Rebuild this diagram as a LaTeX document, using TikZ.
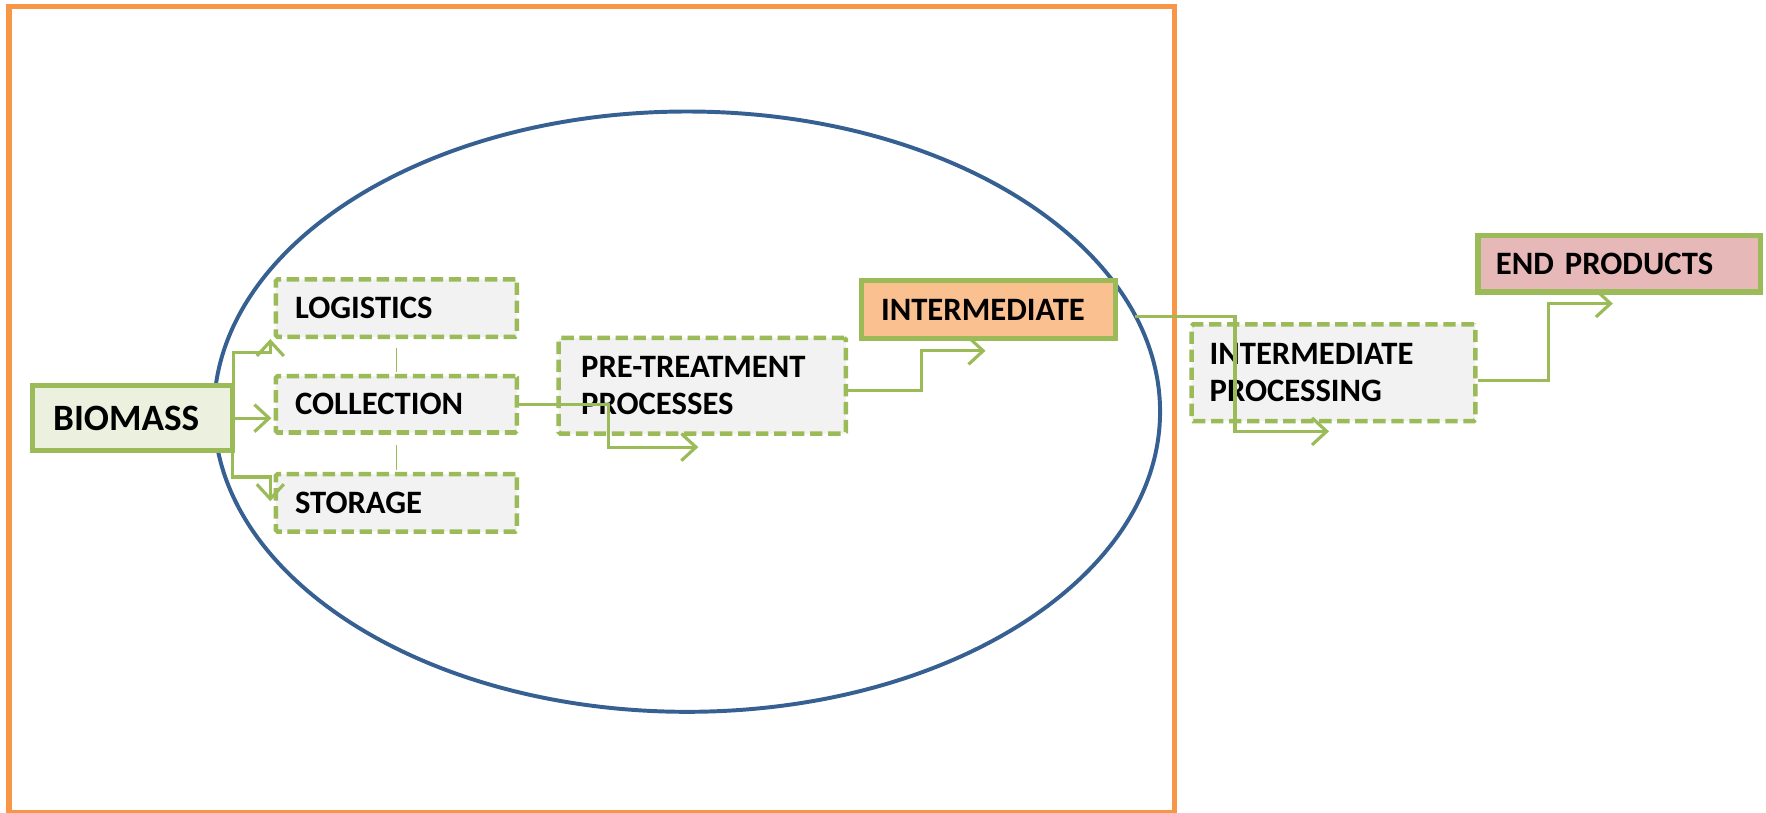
\documentclass[tikz,border=0pt]{standalone}
\usepackage{fontspec}
\setmainfont{Carlito}
\usetikzlibrary{arrows.meta,calc}
\definecolor{frameorange}{HTML}{F79646}
\definecolor{ellblue}{HTML}{366092}
\definecolor{lgreen}{HTML}{9BBB59}
\definecolor{boxgray}{HTML}{F2F2F2}
\definecolor{biofill}{HTML}{EBF1DE}
\definecolor{intfill}{HTML}{FAC090}
\definecolor{endfill}{HTML}{E6B9B8}
\tikzset{
  lbl/.style={font=\fontsize{29}{33}\selectfont\bfseries, align=left, anchor=north west, inner ysep=0pt, inner xsep=0pt},
  dbox/.style={draw=lgreen, line width=4pt, dash pattern=on 11pt off 5pt, fill=boxgray, rounded corners=1.5pt, lbl},
  sbox/.style={draw=lgreen, line width=4.5pt, lbl},
  conn/.style={draw=lgreen, line width=2.8pt, -{Straight Barb[length=13pt,width=24pt,line width=2.8pt]}},
  thinline/.style={draw=lgreen, line width=1.6pt},
}
\begin{document}
\begin{tikzpicture}[x=1pt,y=-1pt]
\useasboundingbox (0,0) rectangle (1568,721);
\fill[white] (0,0) rectangle (1568,721);
\draw[frameorange, line width=4.5pt] (8,6) rectangle (1043,721);
\draw[ellblue, line width=3.5pt] (610,365.5) ellipse [x radius=420, y radius=266.5];

\node[sbox, fill=biofill, minimum width=177pt, minimum height=58pt, text width=141pt, inner xsep=18pt, font=\fontsize{33}{37}\selectfont\bfseries] (bio) at (27,340) {BIOMASS};
\node[dbox, minimum width=214pt, minimum height=51pt, text width=180pt, inner xsep=17pt] (log) at (243,246) {LOGISTICS};
\node[dbox, minimum width=214pt, minimum height=50pt, text width=180pt, inner xsep=17pt] (col) at (243,332) {COLLECTION};
\node[dbox, minimum width=214pt, minimum height=51pt, text width=180pt, inner xsep=17pt] (sto) at (243,419) {STORAGE};
\node[dbox, minimum width=255pt, minimum height=85pt, text width=215pt, inner xsep=20pt] (pre) at (494,298) {PRE-TREATMENT\\PROCESSES};
\node[sbox, fill=intfill, minimum width=225pt, minimum height=51pt, text width=191pt, inner xsep=17pt] (int) at (763,247) {INTERMEDIATE};
\node[dbox, minimum width=252pt, minimum height=86pt, text width=220pt, inner xsep=16pt] (ip) at (1056,286) {INTERMEDIATE\\PROCESSING};
\node[sbox, fill=endfill, minimum width=251pt, minimum height=50pt, text width=219pt, inner xsep=16pt] (end) at (1310,207) {END PRODUCTS};

\draw[conn] ([xshift=-1pt]bio.north east) -- ++(0,-27) -| ($(log.south west)+(-3,0)$);
\draw[conn] (bio.east) -- ($(col.west |- bio.east)+(-2,0)$);
\draw[conn] ([xshift=-2pt]bio.south east) -- ++(0,21) -| ($(sto.north west)+(-3,26)$);
\draw[thinline, shorten <=8pt, shorten >=2pt] (log.south) -- (col.north);
\draw[thinline, shorten <=9pt, shorten >=2pt] (col.south) -- (sto.north);
\draw[conn] (col.east) -- ($(col.east -| pre.south west)+(46,0)$) |- ($(pre.south west)+(126,10)$);
\draw[conn] ($(pre.east)+(0,4)$) -- ++(65,0) |- ($(int.south west)+(112,9)$);
\draw[conn] ($(int.east)+(15,6)$) -- ++(89,0) |- ($(ip.south west)+(124,7)$);
\draw[conn] ($(ip.east)+(0,7)$) -- ++(63,0) |- ($(end.south west)+(122,8)$);
\end{tikzpicture}
\end{document}
